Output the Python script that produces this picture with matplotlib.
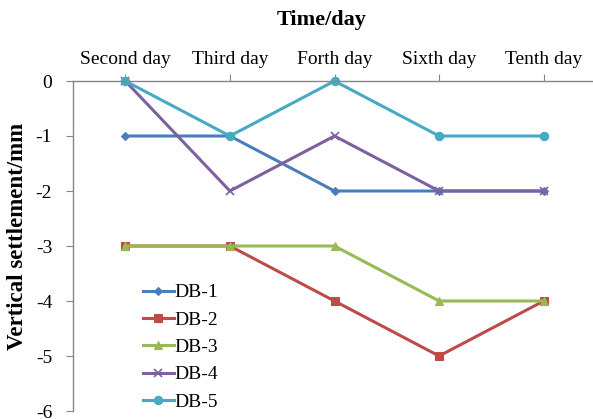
import matplotlib
matplotlib.use("Agg")
import matplotlib.pyplot as plt

plt.rcParams['font.family'] = ['Liberation Serif', 'DejaVu Serif']

categories = ["Second day", "Third day", "Forth day", "Sixth day", "Tenth day"]
db1 = [-1, -1, -2, -2, -2]
db2 = [-3, -3, -4, -5, -4]
db3 = [-3, -3, -3, -4, -4]
db4 = [0, -2, -1, -2, -2]
db5 = [0, -1, 0, -1, -1]
series_names = ["DB-1", "DB-2", "DB-3", "DB-4", "DB-5"]
yticks = [0, -1, -2, -3, -4, -5, -6]

colors = ["#4A7EBB", "#BE4B48", "#98B954", "#7D60A0", "#46AAC5"]
markers = ["D", "s", "^", "x", "o"]
msizes = [4.5, 5.5, 6, 6, 6]

fig = plt.figure(figsize=(5.93, 4.19), dpi=100)
ax = fig.add_axes([73/593, 1-411/419, (596-73)/593, 330/419])

x = list(range(len(categories)))
for vals, name, c, m, ms in zip([db1, db2, db3, db4, db5], series_names, colors, markers, msizes):
    ax.plot(x, vals, color=c, marker=m, markersize=ms, linewidth=2.2, label=name,
            markeredgewidth=1.2 if m == "x" else 0.8, clip_on=False)

ax.set_xlim(-0.5, 4.5)
ax.set_ylim(-6, 0)
ax.set_yticks(yticks)
ax.set_yticklabels([str(v) for v in yticks])
ax.set_xticks(x)
ax.set_xticklabels(categories)
ax.xaxis.tick_top()

for s in ["right", "bottom"]:
    ax.spines[s].set_visible(False)
for s in ["left", "top"]:
    ax.spines[s].set_color("#868686")
    ax.spines[s].set_linewidth(1.0)

ax.tick_params(axis="x", colors="#868686", labelcolor="black", labelsize=14, length=5, direction="out", pad=4)
ax.tick_params(axis="y", colors="#868686", labelcolor="black", labelsize=14, length=5, direction="out", pad=10)

fig.text(322/593, 1-20/419, "Time/day", fontsize=16, fontweight="bold", ha="center", va="center")
fig.text(18/593, 1-236/419, "Vertical settlement/mm", fontsize=16.5, fontweight="bold",
         rotation=90, ha="center", va="center")

leg = ax.legend(loc="upper left", bbox_to_anchor=((135-73)/523, (411-276)/330), frameon=False,
                fontsize=14, handlelength=1.6, handletextpad=0.05, labelspacing=0.5, borderaxespad=0)

fig.savefig("out.png", dpi=100)
